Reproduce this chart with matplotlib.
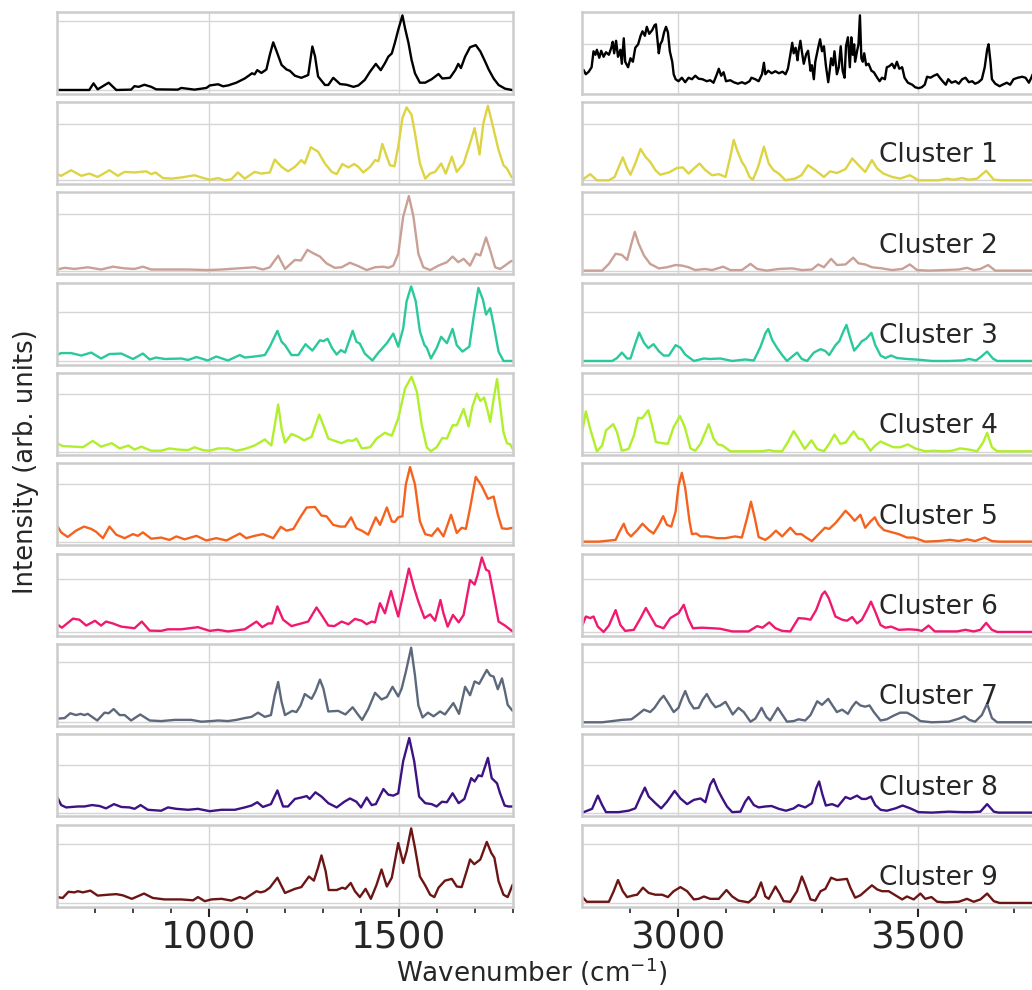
import matplotlib
matplotlib.use("Agg")
import matplotlib.pyplot as plt
import matplotlib.transforms as mtransforms
from matplotlib.ticker import FixedLocator, NullFormatter

# ---------------- data: (wavenumber, intensity) points ----------------
mean_left = [(600, 0.005), (685, 0.005), (696, 0.10), (707, 0.014), (736, 0.11), (756, 0.005), (795, 0.01), (804, 0.06), (815, 0.05), (830, 0.08),
             (848, 0.05), (861, 0.014), (918, 0.01), (927, 0.034), (962, 0.01), (993, 0.034), (1002, 0.07), (1024, 0.087), (1037, 0.058), (1050, 0.07),
             (1072, 0.11), (1094, 0.17), (1107, 0.22), (1113, 0.245), (1120, 0.23), (1127, 0.29), (1138, 0.25), (1151, 0.30), (1160, 0.51), (1169, 0.69),
             (1178, 0.56), (1191, 0.365), (1204, 0.30), (1213, 0.28), (1226, 0.21), (1243, 0.18), (1261, 0.22), (1272, 0.63), (1279, 0.49), (1287, 0.20),
             (1305, 0.077), (1314, 0.077), (1327, 0.18), (1345, 0.09), (1362, 0.08), (1380, 0.05), (1393, 0.07), (1410, 0.15), (1424, 0.27), (1439, 0.38),
             (1452, 0.29), (1463, 0.39), (1472, 0.485), (1481, 0.53), (1489, 0.68), (1498, 0.87), (1509, 1.077), (1516, 0.89), (1525, 0.68), (1533, 0.44),
             (1542, 0.245), (1555, 0.11), (1569, 0.11), (1586, 0.16), (1604, 0.235), (1614, 0.17), (1634, 0.18), (1648, 0.29), (1656, 0.38), (1663, 0.32),
             (1674, 0.485), (1687, 0.62), (1702, 0.65), (1714, 0.56), (1727, 0.41), (1736, 0.30), (1749, 0.17), (1762, 0.077), (1779, 0.024), (1797, 0.005),
             (1800, 0.005)]

mean_right = [(2803, 0.48), (2808, 0.39), (2814, 0.44), (2820, 0.53), (2824, 0.85), (2828, 0.78), (2831, 0.88), (2836, 0.72), (2840, 0.86), (2845, 0.74),
              (2850, 0.83), (2856, 0.78), (2861, 0.92), (2864, 1.04), (2867, 0.81), (2871, 1.06), (2875, 0.74), (2880, 0.88), (2883, 0.60), (2887, 1.11),
              (2890, 0.64), (2896, 0.53), (2901, 0.71), (2906, 0.64), (2911, 0.92), (2917, 0.99), (2922, 1.16), (2926, 1.25), (2931, 1.16), (2935, 1.34),
              (2940, 1.20), (2946, 1.27), (2951, 1.37), (2954, 1.39), (2957, 1.09), (2960, 0.81), (2963, 0.99), (2967, 1.06), (2971, 1.23), (2975, 1.34),
              (2979, 1.23), (2983, 0.85), (2988, 0.64), (2991, 0.39), (2995, 0.29), (3001, 0.25), (3008, 0.32), (3015, 0.23), (3022, 0.32), (3029, 0.29),
              (3036, 0.36), (3043, 0.30), (3051, 0.29), (3060, 0.25), (3067, 0.27), (3074, 0.22), (3081, 0.39), (3085, 0.50), (3090, 0.36), (3095, 0.43),
              (3100, 0.25), (3109, 0.27), (3116, 0.23), (3125, 0.20), (3133, 0.23), (3140, 0.20), (3149, 0.25), (3153, 0.32), (3161, 0.29), (3168, 0.25),
              (3175, 0.39), (3179, 0.62), (3182, 0.39), (3188, 0.46), (3195, 0.41), (3203, 0.45), (3210, 0.41), (3218, 0.44), (3224, 0.39), (3229, 0.50),
              (3234, 0.78), (3238, 1.02), (3241, 0.81), (3245, 0.92), (3249, 0.67), (3251, 0.85), (3255, 1.06), (3258, 0.85), (3262, 0.60), (3267, 0.79),
              (3271, 0.86), (3276, 0.46), (3279, 0.57), (3283, 0.29), (3286, 0.64), (3292, 0.92), (3296, 1.09), (3300, 0.85), (3304, 0.95), (3308, 0.57),
              (3313, 0.23), (3316, 0.46), (3319, 0.71), (3323, 0.57), (3326, 0.85), (3331, 0.39), (3335, 0.53), (3339, 0.95), (3343, 0.46), (3347, 0.32),
              (3350, 0.95), (3354, 1.13), (3358, 0.53), (3361, 1.13), (3364, 0.78), (3367, 0.99), (3369, 0.64), (3373, 0.85), (3376, 0.99), (3379, 1.57),
              (3382, 0.71), (3385, 0.64), (3388, 0.81), (3392, 0.57), (3397, 0.60), (3403, 0.46), (3408, 0.43), (3415, 0.32), (3420, 0.25), (3425, 0.32),
              (3431, 0.29), (3435, 0.53), (3440, 0.55), (3446, 0.60), (3451, 0.51), (3456, 0.64), (3461, 0.50), (3467, 0.53), (3472, 0.32), (3479, 0.22),
              (3488, 0.18), (3494, 0.13), (3501, 0.11), (3508, 0.13), (3514, 0.18), (3519, 0.34), (3526, 0.32), (3533, 0.36), (3540, 0.39), (3547, 0.30),
              (3554, 0.22), (3558, 0.18), (3563, 0.29), (3570, 0.22), (3578, 0.25), (3585, 0.20), (3592, 0.29), (3599, 0.32), (3606, 0.23), (3613, 0.25),
              (3619, 0.20), (3626, 0.23), (3633, 0.29), (3639, 0.53), (3644, 0.88), (3647, 0.99), (3651, 0.64), (3654, 0.29), (3661, 0.20), (3670, 0.15),
              (3676, 0.18), (3685, 0.22), (3692, 0.18), (3699, 0.29), (3708, 0.32), (3717, 0.34), (3724, 0.32), (3731, 0.22), (3736, 0.32), (3739, 0.39)]

c1_left = [(600, 0.11), (611, 0.08), (637, 0.18), (664, 0.08), (685, 0.12), (707, 0.06), (738, 0.18), (760, 0.08), (778, 0.15), (804, 0.14),
           (835, 0.16), (848, 0.11), (859, 0.14), (879, 0.04), (901, 0.03), (927, 0.05), (962, 0.09), (980, 0.05), (1002, 0.01), (1024, 0.04),
           (1041, 0.0), (1059, 0.02), (1076, 0.14), (1094, 0.03), (1120, 0.15), (1138, 0.12), (1160, 0.14), (1173, 0.37), (1191, 0.24), (1208, 0.16),
           (1226, 0.24), (1243, 0.36), (1252, 0.30), (1268, 0.59), (1287, 0.51), (1305, 0.30), (1323, 0.15), (1336, 0.11), (1351, 0.29), (1367, 0.23),
           (1382, 0.29), (1393, 0.24), (1406, 0.14), (1424, 0.24), (1437, 0.36), (1446, 0.34), (1456, 0.65), (1468, 0.42), (1476, 0.27), (1488, 0.25),
           (1498, 0.60), (1509, 1.11), (1520, 1.30), (1533, 1.17), (1542, 0.84), (1555, 0.30), (1569, 0.03), (1582, 0.12), (1595, 0.15), (1611, 0.30),
           (1623, 0.12), (1639, 0.42), (1652, 0.15), (1670, 0.30), (1687, 0.66), (1699, 0.93), (1705, 0.72), (1712, 0.46), (1722, 1.02), (1734, 1.33),
           (1744, 1.05), (1762, 0.54), (1775, 0.27), (1784, 0.21), (1797, 0.05)]
c1_right = [(2801, 0.01), (2817, 0.11), (2831, 0.0), (2856, 0.0), (2868, 0.06), (2885, 0.41), (2894, 0.21), (2901, 0.10), (2911, 0.30), (2922, 0.56),
            (2932, 0.42), (2942, 0.33), (2953, 0.18), (2963, 0.10), (2981, 0.14), (2998, 0.22), (3010, 0.23), (3022, 0.12), (3033, 0.21), (3045, 0.30),
            (3056, 0.19), (3071, 0.09), (3085, 0.11), (3099, 0.06), (3109, 0.42), (3116, 0.72), (3123, 0.54), (3133, 0.33), (3140, 0.24), (3149, 0.06),
            (3156, 0.01), (3167, 0.24), (3179, 0.60), (3189, 0.30), (3199, 0.18), (3210, 0.12), (3224, 0.0), (3244, 0.03), (3257, 0.09), (3271, 0.27),
            (3286, 0.18), (3304, 0.06), (3317, 0.16), (3331, 0.13), (3349, 0.20), (3363, 0.39), (3376, 0.27), (3390, 0.15), (3404, 0.36), (3415, 0.21),
            (3428, 0.12), (3446, 0.06), (3463, 0.03), (3483, 0.09), (3501, 0.0), (3543, 0.0), (3560, 0.03), (3574, 0.01), (3592, 0.04), (3606, 0.01),
            (3623, 0.03), (3642, 0.17), (3658, 0.01), (3675, 0.0), (3745, 0.0)]

c2_left = [(600, 0.02), (620, 0.05), (646, 0.03), (681, 0.06), (716, 0.02), (747, 0.07), (778, 0.04), (804, 0.03), (826, 0.07), (848, 0.02),
           (901, 0.02), (945, 0.02), (997, 0.01), (1033, 0.02), (1076, 0.04), (1120, 0.06), (1142, 0.02), (1160, 0.06), (1182, 0.265), (1200, 0.03),
           (1226, 0.19), (1242, 0.18), (1259, 0.37), (1274, 0.31), (1292, 0.25), (1309, 0.13), (1331, 0.05), (1349, 0.06), (1371, 0.14), (1393, 0.08),
           (1415, 0.01), (1437, 0.06), (1459, 0.07), (1472, 0.05), (1485, 0.09), (1498, 0.30), (1511, 0.96), (1526, 1.325), (1538, 0.96), (1551, 0.30),
           (1564, 0.06), (1582, 0.01), (1604, 0.09), (1626, 0.15), (1641, 0.25), (1656, 0.15), (1670, 0.21), (1687, 0.09), (1702, 0.30), (1714, 0.27),
           (1729, 0.59), (1740, 0.36), (1753, 0.06), (1766, 0.03), (1779, 0.09), (1795, 0.17), (1800, 0.17)]
c2_right = [(2801, 0.0), (2842, 0.0), (2856, 0.12), (2870, 0.30), (2883, 0.28), (2894, 0.19), (2903, 0.48), (2910, 0.69), (2918, 0.48), (2929, 0.27),
            (2942, 0.12), (2960, 0.04), (2977, 0.06), (2995, 0.10), (3008, 0.09), (3022, 0.06), (3036, 0.01), (3056, 0.03), (3071, 0.01), (3094, 0.07),
            (3109, 0.01), (3133, 0.01), (3151, 0.12), (3165, 0.03), (3185, 0.0), (3210, 0.03), (3238, 0.04), (3258, 0.01), (3279, 0.02), (3292, 0.11),
            (3304, 0.06), (3319, 0.21), (3331, 0.10), (3349, 0.11), (3365, 0.23), (3376, 0.13), (3390, 0.11), (3404, 0.06), (3425, 0.04), (3446, 0.01),
            (3467, 0.03), (3483, 0.11), (3498, 0.01), (3522, 0.0), (3557, 0.01), (3585, 0.02), (3602, 0.05), (3616, 0.01), (3630, 0.03), (3646, 0.10),
            (3661, 0.0), (3745, 0.0)]

c3_left = [(600, 0.13), (611, 0.17), (637, 0.17), (664, 0.12), (690, 0.18), (716, 0.06), (738, 0.15), (769, 0.16), (800, 0.05), (826, 0.16),
           (844, 0.04), (861, 0.08), (883, 0.05), (927, 0.06), (945, 0.03), (967, 0.09), (997, 0.02), (1019, 0.10), (1050, 0.02), (1081, 0.13),
           (1094, 0.08), (1120, 0.10), (1147, 0.13), (1160, 0.30), (1180, 0.62), (1191, 0.40), (1200, 0.33), (1217, 0.13), (1235, 0.13), (1254, 0.35),
           (1272, 0.22), (1292, 0.43), (1301, 0.41), (1312, 0.46), (1324, 0.27), (1336, 0.14), (1347, 0.23), (1358, 0.18), (1378, 0.62), (1388, 0.40),
           (1397, 0.36), (1410, 0.16), (1430, 0.02), (1446, 0.18), (1468, 0.37), (1485, 0.565), (1498, 0.30), (1511, 0.67), (1520, 1.22), (1532, 1.52),
           (1544, 1.22), (1555, 0.61), (1567, 0.33), (1573, 0.28), (1584, 0.06), (1599, 0.27), (1611, 0.50), (1626, 0.37), (1641, 0.66), (1652, 0.33),
           (1667, 0.20), (1685, 0.30), (1696, 0.88), (1709, 1.49), (1721, 1.25), (1729, 0.95), (1740, 1.08), (1749, 0.74), (1762, 0.20), (1775, 0.01),
           (1800, 0.01)]
c3_right = [(2801, 0.01), (2863, 0.01), (2873, 0.07), (2883, 0.18), (2894, 0.06), (2901, 0.06), (2910, 0.33), (2919, 0.585), (2929, 0.38), (2938, 0.27),
            (2949, 0.35), (2960, 0.21), (2970, 0.12), (2981, 0.12), (2995, 0.33), (3005, 0.28), (3015, 0.14), (3033, 0.01), (3054, 0.06), (3067, 0.05),
            (3088, 0.06), (3113, 0.01), (3140, 0.04), (3158, 0.02), (3172, 0.30), (3182, 0.57), (3188, 0.66), (3196, 0.44), (3206, 0.28), (3217, 0.13),
            (3227, 0.01), (3238, 0.10), (3248, 0.18), (3258, 0.05), (3269, 0.01), (3283, 0.18), (3297, 0.25), (3307, 0.21), (3315, 0.13), (3328, 0.33),
            (3336, 0.41), (3345, 0.62), (3351, 0.74), (3358, 0.50), (3367, 0.22), (3376, 0.32), (3383, 0.41), (3392, 0.46), (3403, 0.58), (3411, 0.33),
            (3422, 0.12), (3432, 0.07), (3444, 0.12), (3456, 0.07), (3477, 0.05), (3494, 0.04), (3508, 0.03), (3529, 0.01), (3564, 0.01), (3592, 0.02),
            (3607, 0.05), (3621, 0.02), (3632, 0.10), (3644, 0.20), (3656, 0.06), (3665, 0.01), (3745, 0.01)]

c4_left = [(600, 0.15), (615, 0.10), (646, 0.09), (668, 0.08), (694, 0.19), (716, 0.09), (744, 0.15), (765, 0.06), (788, 0.11), (804, 0.04),
           (822, 0.09), (848, 0.02), (874, 0.02), (896, 0.06), (918, 0.04), (945, 0.03), (962, 0.08), (984, 0.03), (1002, 0.02), (1024, 0.06),
           (1050, 0.06), (1072, 0.02), (1094, 0.05), (1120, 0.11), (1147, 0.215), (1164, 0.11), (1173, 0.46), (1182, 0.82), (1191, 0.40), (1200, 0.16),
           (1217, 0.31), (1235, 0.26), (1250, 0.20), (1270, 0.26), (1290, 0.645), (1301, 0.46), (1314, 0.23), (1331, 0.19), (1349, 0.15), (1366, 0.20),
           (1378, 0.19), (1388, 0.23), (1402, 0.06), (1424, 0.08), (1441, 0.23), (1463, 0.33), (1481, 0.28), (1498, 0.58), (1516, 1.10), (1533, 1.30),
           (1547, 1.04), (1560, 0.46), (1573, 0.08), (1584, 0.01), (1599, 0.08), (1614, 0.24), (1626, 0.23), (1641, 0.46), (1652, 0.46), (1670, 0.74),
           (1683, 0.44), (1693, 0.78), (1705, 1.01), (1714, 0.88), (1724, 0.94), (1733, 0.72), (1740, 0.52), (1749, 0.92), (1758, 1.26), (1766, 0.81),
           (1775, 0.34), (1784, 0.15), (1793, 0.13), (1799, 0.05)]
c4_right = [(2801, 0.37), (2808, 0.70), (2817, 0.40), (2831, 0.01), (2842, 0.11), (2850, 0.37), (2865, 0.48), (2873, 0.34), (2883, 0.02), (2897, 0.05),
            (2908, 0.28), (2917, 0.59), (2925, 0.58), (2938, 0.72), (2946, 0.46), (2954, 0.17), (2967, 0.15), (2979, 0.14), (2991, 0.43), (3004, 0.62),
            (3014, 0.43), (3026, 0.06), (3036, 0.02), (3047, 0.14), (3064, 0.48), (3074, 0.23), (3083, 0.13), (3093, 0.11), (3109, 0.01), (3140, 0.01),
            (3175, 0.01), (3189, 0.03), (3203, 0.01), (3217, 0.01), (3229, 0.17), (3241, 0.36), (3251, 0.23), (3264, 0.05), (3278, 0.20), (3290, 0.05),
            (3304, 0.01), (3315, 0.14), (3326, 0.30), (3338, 0.14), (3349, 0.16), (3366, 0.355), (3376, 0.23), (3385, 0.215), (3401, 0.02), (3411, 0.11),
            (3422, 0.18), (3435, 0.13), (3449, 0.08), (3463, 0.08), (3479, 0.13), (3494, 0.06), (3515, 0.01), (3533, 0.02), (3553, 0.01), (3571, 0.02),
            (3588, 0.06), (3606, 0.04), (3623, 0.01), (3636, 0.17), (3644, 0.33), (3654, 0.08), (3665, 0.01), (3745, 0.01)]

c5_left = [(600, 0.28), (611, 0.16), (628, 0.08), (650, 0.19), (671, 0.26), (690, 0.22), (703, 0.17), (721, 0.06), (738, 0.26), (756, 0.12),
           (778, 0.06), (800, 0.13), (813, 0.10), (826, 0.16), (848, 0.05), (874, 0.07), (896, 0.03), (914, 0.09), (936, 0.04), (967, 0.10),
           (993, 0.02), (1019, 0.06), (1046, 0.02), (1081, 0.14), (1098, 0.06), (1120, 0.10), (1142, 0.13), (1169, 0.06), (1189, 0.256), (1204, 0.19),
           (1222, 0.22), (1239, 0.41), (1257, 0.59), (1279, 0.60), (1296, 0.45), (1309, 0.44), (1327, 0.29), (1345, 0.26), (1358, 0.26), (1374, 0.42),
           (1388, 0.23), (1402, 0.19), (1419, 0.12), (1439, 0.42), (1450, 0.29), (1468, 0.59), (1481, 0.35), (1489, 0.34), (1498, 0.42), (1509, 0.44),
           (1518, 0.99), (1529, 1.29), (1542, 0.99), (1555, 0.35), (1569, 0.13), (1586, 0.10), (1602, 0.23), (1617, 0.09), (1637, 0.465), (1652, 0.15),
           (1665, 0.24), (1676, 0.22), (1687, 0.58), (1702, 1.12), (1718, 0.96), (1734, 0.74), (1749, 0.78), (1760, 0.47), (1771, 0.23), (1784, 0.22),
           (1799, 0.24)]
c5_right = [(2801, 0.0), (2835, 0.0), (2859, 0.02), (2870, 0.03), (2878, 0.17), (2887, 0.31), (2894, 0.16), (2902, 0.09), (2915, 0.20), (2926, 0.31),
            (2939, 0.20), (2949, 0.14), (2960, 0.29), (2969, 0.44), (2977, 0.29), (2986, 0.26), (2995, 0.52), (3001, 0.96), (3008, 1.19), (3015, 0.93),
            (3024, 0.35), (3029, 0.13), (3038, 0.14), (3047, 0.09), (3060, 0.09), (3081, 0.06), (3099, 0.06), (3119, 0.09), (3133, 0.07), (3144, 0.41),
            (3152, 0.69), (3160, 0.41), (3168, 0.08), (3182, 0.03), (3192, 0.09), (3204, 0.19), (3217, 0.09), (3234, 0.24), (3246, 0.13), (3257, 0.13),
            (3267, 0.07), (3279, 0.01), (3292, 0.12), (3306, 0.24), (3315, 0.22), (3328, 0.32), (3338, 0.42), (3349, 0.535), (3359, 0.45), (3368, 0.36),
            (3380, 0.465), (3390, 0.24), (3401, 0.35), (3410, 0.42), (3418, 0.29), (3429, 0.20), (3442, 0.17), (3460, 0.13), (3477, 0.07), (3491, 0.07),
            (3515, 0.0), (3543, 0.01), (3567, 0.03), (3585, 0.01), (3602, 0.04), (3619, 0.01), (3639, 0.07), (3654, 0.01), (3668, 0.0), (3745, 0.0)]

c6_left = [(600, 0.145), (613, 0.08), (642, 0.25), (659, 0.23), (677, 0.12), (700, 0.21), (716, 0.12), (729, 0.195), (747, 0.16), (769, 0.10),
           (804, 0.07), (823, 0.195), (844, 0.025), (874, 0.02), (892, 0.05), (927, 0.05), (971, 0.09), (1002, 0.02), (1024, 0.04), (1050, 0.01),
           (1094, 0.05), (1125, 0.195), (1140, 0.09), (1156, 0.16), (1166, 0.16), (1180, 0.48), (1195, 0.23), (1217, 0.11), (1243, 0.16), (1261, 0.195),
           (1283, 0.46), (1296, 0.32), (1314, 0.12), (1330, 0.11), (1349, 0.195), (1367, 0.145), (1384, 0.245), (1402, 0.21), (1415, 0.145), (1428, 0.195),
           (1437, 0.18), (1450, 0.54), (1463, 0.35), (1479, 0.77), (1489, 0.51), (1498, 0.29), (1511, 0.70), (1526, 1.19), (1540, 0.82), (1551, 0.57),
           (1567, 0.26), (1582, 0.33), (1595, 0.21), (1609, 0.60), (1617, 0.35), (1628, 0.10), (1642, 0.32), (1657, 0.18), (1670, 0.32), (1678, 0.635),
           (1687, 0.975), (1699, 0.89), (1707, 1.075), (1718, 1.40), (1729, 1.17), (1737, 1.14), (1749, 0.70), (1762, 0.195), (1779, 0.12), (1797, 0.02),
           (1800, 0.01)]
c6_right = [(2801, 0.13), (2808, 0.29), (2817, 0.26), (2824, 0.29), (2833, 0.10), (2845, 0.0), (2856, 0.12), (2870, 0.41), (2880, 0.13), (2890, 0.02),
            (2908, 0.04), (2922, 0.26), (2933, 0.45), (2945, 0.26), (2954, 0.12), (2970, 0.07), (2984, 0.26), (2995, 0.32), (3001, 0.35), (3012, 0.51),
            (3021, 0.26), (3031, 0.07), (3050, 0.08), (3071, 0.07), (3088, 0.06), (3113, 0.01), (3147, 0.01), (3165, 0.11), (3176, 0.08), (3190, 0.18),
            (3203, 0.07), (3217, 0.02), (3234, 0.01), (3251, 0.26), (3265, 0.25), (3276, 0.23), (3288, 0.415), (3300, 0.70), (3306, 0.76), (3314, 0.635),
            (3328, 0.29), (3342, 0.23), (3352, 0.21), (3363, 0.28), (3373, 0.16), (3383, 0.23), (3394, 0.415), (3402, 0.57), (3411, 0.38), (3422, 0.13),
            (3432, 0.08), (3444, 0.10), (3460, 0.04), (3481, 0.05), (3498, 0.04), (3508, 0.02), (3522, 0.12), (3535, 0.01), (3557, 0.01), (3581, 0.01),
            (3599, 0.04), (3616, 0.01), (3630, 0.04), (3642, 0.17), (3654, 0.04), (3665, 0.0), (3745, 0.0)]

c7_left = [(600, 0.06), (620, 0.07), (635, 0.15), (650, 0.12), (662, 0.14), (672, 0.12), (681, 0.14), (706, 0.03), (725, 0.16), (736, 0.15),
           (749, 0.22), (765, 0.12), (778, 0.12), (795, 0.03), (819, 0.13), (844, 0.03), (874, 0.02), (910, 0.04), (953, 0.04), (980, 0.01),
           (1006, 0.02), (1024, 0.03), (1050, 0.02), (1072, 0.04), (1094, 0.07), (1112, 0.09), (1129, 0.16), (1147, 0.09), (1163, 0.12), (1173, 0.45),
           (1182, 0.67), (1191, 0.34), (1200, 0.12), (1219, 0.19), (1230, 0.17), (1241, 0.28), (1252, 0.47), (1270, 0.39), (1280, 0.51), (1292, 0.71),
           (1301, 0.56), (1314, 0.18), (1340, 0.19), (1359, 0.13), (1378, 0.25), (1393, 0.12), (1403, 0.04), (1419, 0.22), (1437, 0.49), (1454, 0.38),
           (1468, 0.42), (1483, 0.59), (1498, 0.43), (1507, 0.56), (1518, 0.84), (1532, 1.24), (1542, 0.78), (1551, 0.28), (1562, 0.08), (1576, 0.16),
           (1591, 0.10), (1608, 0.18), (1621, 0.13), (1643, 0.32), (1658, 0.14), (1674, 0.59), (1687, 0.45), (1699, 0.68), (1711, 0.64), (1731, 0.87),
           (1740, 0.78), (1749, 0.76), (1760, 0.55), (1771, 0.73), (1779, 0.51), (1786, 0.29), (1799, 0.19)]
c7_right = [(2801, 0.0), (2842, 0.0), (2863, 0.02), (2883, 0.04), (2903, 0.05), (2915, 0.12), (2929, 0.21), (2942, 0.17), (2951, 0.24), (2963, 0.38),
            (2970, 0.44), (2979, 0.33), (2991, 0.17), (3001, 0.24), (3008, 0.39), (3015, 0.52), (3024, 0.34), (3033, 0.23), (3043, 0.24), (3051, 0.37),
            (3060, 0.47), (3069, 0.34), (3078, 0.25), (3088, 0.28), (3099, 0.34), (3107, 0.23), (3114, 0.13), (3126, 0.24), (3137, 0.17), (3151, 0.01),
            (3161, 0.06), (3174, 0.24), (3184, 0.09), (3192, 0.03), (3208, 0.24), (3217, 0.13), (3227, 0.01), (3241, 0.02), (3251, 0.05), (3265, 0.03),
            (3276, 0.12), (3290, 0.35), (3300, 0.29), (3313, 0.39), (3321, 0.29), (3331, 0.17), (3342, 0.21), (3354, 0.14), (3363, 0.26), (3371, 0.34),
            (3380, 0.28), (3390, 0.26), (3399, 0.28), (3408, 0.17), (3422, 0.03), (3435, 0.05), (3449, 0.11), (3463, 0.16), (3477, 0.16), (3491, 0.10),
            (3505, 0.02), (3529, 0.0), (3564, 0.01), (3585, 0.06), (3597, 0.10), (3607, 0.04), (3619, 0.01), (3633, 0.12), (3644, 0.31), (3654, 0.07),
            (3665, 0.0), (3745, 0.0)]

c8_left = [(600, 0.34), (611, 0.16), (624, 0.11), (655, 0.13), (672, 0.13), (692, 0.16), (712, 0.14), (729, 0.09), (750, 0.18), (769, 0.12),
           (791, 0.11), (804, 0.08), (820, 0.16), (839, 0.06), (874, 0.04), (892, 0.11), (914, 0.08), (945, 0.06), (971, 0.08), (1002, 0.03),
           (1033, 0.06), (1068, 0.06), (1094, 0.11), (1112, 0.15), (1127, 0.22), (1142, 0.12), (1163, 0.18), (1180, 0.47), (1195, 0.13), (1208, 0.13),
           (1226, 0.29), (1243, 0.32), (1257, 0.35), (1265, 0.29), (1280, 0.43), (1296, 0.34), (1314, 0.20), (1336, 0.11), (1356, 0.23), (1371, 0.30),
           (1388, 0.23), (1400, 0.11), (1415, 0.32), (1428, 0.16), (1439, 0.18), (1459, 0.50), (1472, 0.38), (1485, 0.36), (1498, 0.41), (1511, 1.09),
           (1527, 1.58), (1540, 1.09), (1553, 0.34), (1569, 0.20), (1586, 0.18), (1599, 0.13), (1613, 0.23), (1626, 0.22), (1641, 0.41), (1657, 0.20),
           (1672, 0.29), (1690, 0.73), (1699, 0.66), (1709, 0.79), (1718, 0.77), (1734, 1.16), (1744, 0.73), (1758, 0.62), (1766, 0.41), (1778, 0.15),
           (1788, 0.13), (1799, 0.13)]
c8_right = [(2801, 0.0), (2821, 0.08), (2833, 0.36), (2842, 0.16), (2850, 0.01), (2876, 0.01), (2897, 0.04), (2911, 0.09), (2922, 0.34), (2931, 0.53),
            (2939, 0.34), (2953, 0.20), (2965, 0.09), (2977, 0.23), (2993, 0.46), (3005, 0.30), (3019, 0.18), (3033, 0.27), (3047, 0.30), (3057, 0.22),
            (3067, 0.59), (3074, 0.71), (3083, 0.48), (3093, 0.29), (3102, 0.13), (3113, 0.01), (3130, 0.02), (3140, 0.23), (3147, 0.33), (3158, 0.16),
            (3168, 0.11), (3182, 0.13), (3195, 0.14), (3210, 0.08), (3225, 0.04), (3241, 0.09), (3251, 0.16), (3265, 0.11), (3279, 0.20), (3288, 0.52),
            (3294, 0.66), (3301, 0.38), (3308, 0.15), (3321, 0.18), (3333, 0.13), (3349, 0.33), (3359, 0.29), (3373, 0.36), (3383, 0.29), (3392, 0.29),
            (3402, 0.34), (3411, 0.16), (3422, 0.06), (3435, 0.04), (3453, 0.09), (3468, 0.15), (3484, 0.09), (3501, 0.01), (3529, 0.0), (3564, 0.02),
            (3592, 0.01), (3612, 0.01), (3630, 0.02), (3644, 0.18), (3658, 0.02), (3668, 0.0), (3745, 0.0)]

c9_left = [(600, 0.10), (615, 0.085), (630, 0.19), (646, 0.18), (655, 0.20), (668, 0.18), (688, 0.21), (707, 0.125), (734, 0.14), (756, 0.15),
           (773, 0.13), (797, 0.07), (829, 0.16), (852, 0.085), (883, 0.06), (927, 0.06), (958, 0.045), (971, 0.10), (989, 0.03), (1006, 0.06),
           (1033, 0.07), (1059, 0.04), (1081, 0.10), (1094, 0.07), (1125, 0.20), (1136, 0.18), (1147, 0.20), (1160, 0.26), (1180, 0.43), (1200, 0.17),
           (1226, 0.24), (1243, 0.27), (1263, 0.45), (1276, 0.38), (1287, 0.60), (1296, 0.81), (1307, 0.54), (1315, 0.22), (1336, 0.22), (1351, 0.26),
           (1359, 0.24), (1373, 0.34), (1384, 0.20), (1397, 0.10), (1412, 0.24), (1426, 0.07), (1441, 0.31), (1454, 0.57), (1468, 0.28), (1481, 0.43),
           (1498, 1.02), (1511, 0.68), (1520, 0.88), (1532, 1.27), (1542, 0.94), (1555, 0.45), (1569, 0.30), (1582, 0.14), (1593, 0.10), (1604, 0.26),
           (1621, 0.38), (1639, 0.41), (1652, 0.28), (1665, 0.27), (1678, 0.54), (1687, 0.74), (1698, 0.66), (1714, 0.74), (1731, 1.04), (1743, 0.85),
           (1751, 0.77), (1762, 0.37), (1775, 0.14), (1786, 0.10), (1799, 0.31)]
c9_right = [(2801, 0.10), (2810, 0.02), (2856, 0.02), (2866, 0.20), (2875, 0.39), (2885, 0.20), (2894, 0.10), (2908, 0.13), (2915, 0.14), (2927, 0.26),
            (2939, 0.17), (2953, 0.14), (2967, 0.14), (2979, 0.10), (2991, 0.20), (3005, 0.27), (3019, 0.20), (3033, 0.06), (3043, 0.07), (3054, 0.11),
            (3067, 0.07), (3085, 0.07), (3101, 0.22), (3113, 0.11), (3126, 0.04), (3147, 0.01), (3161, 0.11), (3173, 0.35), (3182, 0.11), (3189, 0.07),
            (3203, 0.28), (3211, 0.17), (3220, 0.03), (3234, 0.02), (3248, 0.20), (3258, 0.45), (3265, 0.31), (3276, 0.06), (3286, 0.04), (3297, 0.20),
            (3307, 0.24), (3319, 0.43), (3331, 0.39), (3342, 0.40), (3352, 0.41), (3359, 0.26), (3369, 0.09), (3380, 0.13), (3394, 0.23), (3404, 0.30),
            (3415, 0.23), (3425, 0.20), (3439, 0.20), (3451, 0.14), (3467, 0.06), (3477, 0.11), (3491, 0.06), (3505, 0.16), (3515, 0.07), (3528, 0.10),
            (3540, 0.02), (3557, 0.01), (3585, 0.02), (3602, 0.07), (3616, 0.02), (3630, 0.06), (3644, 0.16), (3658, 0.03), (3670, 0.0), (3745, 0.0)]

row_labels = ["", "Cluster 1", "Cluster 2", "Cluster 3", "Cluster 4", "Cluster 5",
              "Cluster 6", "Cluster 7", "Cluster 8", "Cluster 9"]
row_colors = ["#000000", "#dcd443", "#c9a096", "#29c99c", "#b0ef2b", "#f5621e",
              "#f0196f", "#5d687b", "#3d1283", "#6d1515"]
left_series = [mean_left, c1_left, c2_left, c3_left, c4_left, c5_left, c6_left, c7_left, c8_left, c9_left]
right_series = [mean_right, c1_right, c2_right, c3_right, c4_right, c5_right, c6_right, c7_right, c8_right, c9_right]

left_range = (600, 1800)
right_range = (2800, 3800)
left_major = [1000, 1500]
right_major = [3000, 3500]
left_minor = [700, 800, 900, 1100, 1200, 1300, 1400, 1600, 1700, 1800]
right_minor = [2900, 3100, 3200, 3300, 3400, 3600, 3700, 3800]
y_grid = [0, 1]

# ---------------- figure ----------------
W, H = 1032, 990
fig = plt.figure(figsize=(W / 100, H / 100), dpi=100)
TXT = "#262626"
SPINE = "#cccccc"
GRID = "#d6d6d6"

top0, pitch, h = 11.7, 90.33, 82.0
lx0, lw_ = 57.0, 456.0
rx0, rw_ = 582.0, 480.0


def style(ax, bottom_row):
    for s in ax.spines.values():
        s.set_color(SPINE)
        s.set_linewidth(1.8)
    ax.set_facecolor("white")
    ax.grid(True, which="major", color=GRID, linewidth=1.0)
    ax.set_axisbelow(True)
    ax.set_yticks(y_grid)
    ax.tick_params(axis="y", which="both", left=False, labelleft=False)
    if bottom_row:
        ax.tick_params(axis="x", which="major", direction="out", length=7, width=1.5,
                       color=TXT, labelsize=27, labelcolor=TXT, pad=3)
        ax.tick_params(axis="x", which="minor", direction="out", length=4.5, width=1.2,
                       color=TXT)
    else:
        ax.tick_params(axis="x", which="both", bottom=False, labelbottom=False)


for i in range(10):
    top = top0 + i * pitch
    b = 1 - (top + h) / H
    axl = fig.add_axes([lx0 / W, b, lw_ / W, h / H])
    if i == 0:
        axr = fig.add_axes([rx0 / W, b, rw_ / W, h / H])
    else:
        axr = fig.add_axes([rx0 / W, b, rw_ / W, h / H], sharey=axl)
    bottom_row = (i == 9)
    for ax, data, rng, maj, mnr in ((axl, left_series[i], left_range, left_major, left_minor),
                                    (axr, right_series[i], right_range, right_major, right_minor)):
        xs = [p[0] for p in data]
        ys = [p[1] for p in data]
        ax.plot(xs, ys, color=row_colors[i], linewidth=1.7, solid_joinstyle="round",
                solid_capstyle="round")
        ax.set_xlim(*rng)
        ax.xaxis.set_major_locator(FixedLocator(maj))
        ax.xaxis.set_minor_locator(FixedLocator(mnr))
        ax.xaxis.set_minor_formatter(NullFormatter())
        ax.margins(y=0.05)
        style(ax, bottom_row)
    if row_labels[i]:
        trans = mtransforms.blended_transform_factory(axr.transData, axr.transAxes)
        axr.text(3418, 0.265, row_labels[i], transform=trans, fontsize=19,
                 color=TXT, ha="left", va="baseline")

fig.text(532 / W, 1 - 982 / H, "Wavenumber (cm$^{-1}$)", fontsize=18.8, color=TXT,
         ha="center", va="baseline")
fig.text(26 / W, 1 - 462 / H, "Intensity (arb. units)", fontsize=18.6, color=TXT,
         rotation=90, ha="center", va="center")

fig.savefig("out.png", dpi=100)
